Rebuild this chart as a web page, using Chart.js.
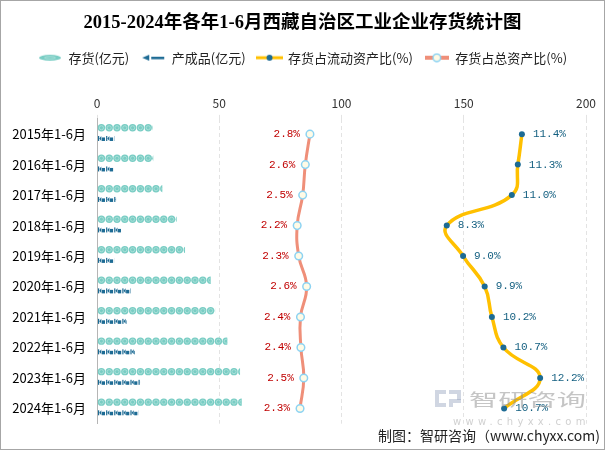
<!DOCTYPE html>
<html>
<head>
<meta charset="utf-8">
<script src="https://cdn.jsdelivr.net/npm/chart.js@4.4.1/dist/chart.umd.min.js"></script>
<style>
  html, body { margin: 0; padding: 0; background: #fff; }
  #wrap { width: 605px; height: 450px; }
</style>
</head>
<body>
<div id="wrap"><canvas id="chart" width="605" height="450"></canvas></div>
<script>
const categories = [
  "2015年1-6月", "2016年1-6月", "2017年1-6月", "2018年1-6月", "2019年1-6月",
  "2020年1-6月", "2021年1-6月", "2022年1-6月", "2023年1-6月", "2024年1-6月",
];
const inventory = [22.8, 23.0, 26.7, 32.6, 36.0, 46.5, 48.3, 53.3, 58.5, 59.2];
const finishedGoods = [7.1, 6.9, 7.8, 9.8, 7.0, 13.8, 12.1, 15.5, 17.6, 16.9];
const currentAssetRatio = [11.43, 11.26, 11.01, 8.3, 8.98, 9.88, 10.18, 10.66, 12.19, 10.69];
const totalAssetRatio = [2.79, 2.58, 2.46, 2.21, 2.28, 2.64, 2.36, 2.38, 2.51, 2.34];
const valueTicks = [0, 50, 100, 150, 200];
const seriesNames = ["存货(亿元)", "产成品(亿元)", "存货占流动资产比(%)", "存货占总资产比(%)"];

const CJK = '"Noto Sans CJK SC", "Noto Sans", sans-serif';
const TEAL = "#79cdc4";
const NAVY = "#1d6b94";
const YELLOW = "#ffc000";
const SALMON = "#ef8f79";

function drawCircleIcon(ctx, cx, cy, r) {
  ctx.beginPath();
  ctx.arc(cx, cy, r, 0, Math.PI * 2);
  ctx.fillStyle = TEAL;
  ctx.fill();
  ctx.beginPath();
  ctx.arc(cx, cy, r * 0.55, 0, Math.PI * 2);
  ctx.strokeStyle = "#a9e0d9";
  ctx.lineWidth = 1;
  ctx.stroke();
}

function drawGoodsIcon(ctx, x0, cy) {
  ctx.fillStyle = NAVY;
  ctx.fillRect(x0 + 0.5, cy - 2.5, 1.2, 5);
  ctx.beginPath();
  ctx.moveTo(x0 + 1.7, cy);
  ctx.lineTo(x0 + 3.8, cy - 2.5);
  ctx.lineTo(x0 + 3.8, cy + 2.5);
  ctx.closePath();
  ctx.fill();
  ctx.fillRect(x0 + 4.3, cy - 1, 3.2, 3.5);
}

function makeIcon(w, h, paint) {
  const c = document.createElement("canvas");
  c.width = w;
  c.height = h;
  paint(c.getContext("2d"), w, h);
  return c;
}

const legendIcons = [
  makeIcon(22, 8, (ctx, w, h) => {
    ctx.beginPath();
    ctx.ellipse(w / 2, h / 2, w / 2, h / 2 - 1, 0, 0, Math.PI * 2);
    ctx.fillStyle = TEAL;
    ctx.fill();
    ctx.strokeStyle = "#a9e0d9";
    ctx.beginPath();
    ctx.ellipse(w / 2, h / 2, w / 4, 1.2, 0, 0, Math.PI * 2);
    ctx.stroke();
  }),
  makeIcon(24, 8, (ctx, w, h) => {
    ctx.fillStyle = NAVY;
    ctx.beginPath();
    ctx.moveTo(1, h / 2);
    ctx.lineTo(8, 1);
    ctx.lineTo(8, h - 1);
    ctx.closePath();
    ctx.fill();
    ctx.fillRect(10, h / 2 - 1, 13, 2.5);
  }),
  makeIcon(27, 8, (ctx, w, h) => {
    ctx.fillStyle = YELLOW;
    ctx.fillRect(0, h / 2 - 1.5, w, 3);
    ctx.beginPath();
    ctx.arc(w / 2, h / 2, 3, 0, Math.PI * 2);
    ctx.fillStyle = NAVY;
    ctx.fill();
  }),
  makeIcon(24, 10, (ctx, w, h) => {
    ctx.fillStyle = SALMON;
    ctx.fillRect(0, h / 2 - 2, w, 4);
    ctx.beginPath();
    ctx.arc(w / 2, h / 2, 3.8, 0, Math.PI * 2);
    ctx.fillStyle = "#fffbe6";
    ctx.fill();
    ctx.strokeStyle = "#8dd3f2";
    ctx.lineWidth = 1.5;
    ctx.stroke();
  }),
];

// title and legend sit centred on the whole picture, not on the plot box
const centerHeader = {
  id: "centerHeader",
  afterLayout(chart) {
    [chart.titleBlock, chart.legend].forEach((box) => {
      if (box) {
        box.left += 9.5;
        box.right += 9.5;
      }
    });
  },
};

// pictorial bars: circles for inventory, little glyphs for finished goods
const pictorialBars = {
  id: "pictorialBars",
  afterDatasetDraw(chart, args) {
    if (args.index > 1) {
      return;
    }
    const ctx = chart.ctx;
    const meta = args.meta;
    meta.data.forEach((bar) => {
      const { x, y, base } = bar.getProps(["x", "y", "base"], true);
      const left = Math.min(x, base);
      const right = Math.max(x, base);
      const cy = y - 1;
      ctx.save();
      ctx.beginPath();
      ctx.rect(left, cy - 5, right - left, 10);
      ctx.clip();
      if (args.index === 0) {
        const d = 7.8;
        for (let cx = left; cx < right; cx += d) {
          drawCircleIcon(ctx, cx + d / 2, cy, d / 2 - 0.2);
        }
      } else {
        for (let gx = left; gx < right; gx += 8.1) {
          drawGoodsIcon(ctx, gx, cy);
        }
      }
      ctx.restore();
    });
  },
};

const pointLabels = {
  id: "pointLabels",
  afterDatasetsDraw(chart) {
    const ctx = chart.ctx;
    ctx.save();
    ctx.font = '11px "Liberation Mono", "DejaVu Sans Mono", monospace';
    ctx.textBaseline = "middle";
    [2, 3].forEach((i) => {
      const meta = chart.getDatasetMeta(i);
      const values = chart.data.datasets[i].data;
      meta.data.forEach((pt, j) => {
        const text = values[j].toFixed(1) + "%";
        if (i === 2) {
          ctx.fillStyle = "#135f80";
          ctx.textAlign = "left";
          ctx.fillText(text, pt.x + 11, pt.y);
        } else {
          ctx.fillStyle = "#c00000";
          ctx.textAlign = "right";
          ctx.fillText(text, pt.x - 10, pt.y);
        }
      });
    });
    ctx.restore();
  },
};

const frameAndCredits = {
  id: "frameAndCredits",
  beforeDraw(chart) {
    const ctx = chart.ctx;
    ctx.save();
    ctx.fillStyle = "#fff";
    ctx.fillRect(0, 0, chart.width, chart.height);
    ctx.restore();
  },
  afterDraw(chart) {
    const ctx = chart.ctx;
    ctx.save();
    // watermark
    ctx.fillStyle = "rgba(150, 165, 190, 0.45)";
    ctx.fillRect(435, 390, 11, 4);
    ctx.fillRect(435, 394, 4, 13);
    ctx.fillRect(439, 403, 7, 4);
    ctx.fillRect(449, 390, 12, 4);
    ctx.fillRect(457, 394, 4, 6);
    ctx.fillRect(449, 399, 12, 4);
    ctx.fillRect(449, 403, 4, 4);
    ctx.fillStyle = "rgba(140, 140, 140, 0.5)";
    ctx.font = "17px " + CJK;
    ctx.textBaseline = "middle";
    ctx.translate(469, 399.5);
    ctx.scale(1.72, 1);
    ctx.fillText("智研咨询", 0, 0);
    ctx.setTransform(1, 0, 0, 1, 0, 0);
    ctx.font = '10px "DejaVu Sans", sans-serif';
    ctx.letterSpacing = "4.3px";
    ctx.fillStyle = "rgba(150, 150, 150, 0.45)";
    ctx.fillText("www.chyxx.com", 453, 422);
    ctx.letterSpacing = "0px";
    // credit line
    ctx.fillStyle = "#222";
    ctx.font = "14px " + CJK;
    ctx.textAlign = "right";
    ctx.fillText("制图：智研咨询（www.chyxx.com)", 600, 436);
    // outer frame
    ctx.strokeStyle = "#a6a6a6";
    ctx.lineWidth = 1;
    ctx.strokeRect(0.5, 0.5, chart.width - 1, chart.height - 1);
    ctx.restore();
  },
};

new Chart(document.getElementById("chart"), {
  type: "bar",
  data: {
    labels: categories,
    datasets: [
      {
        label: seriesNames[0],
        data: inventory,
        xAxisID: "x",
        backgroundColor: "rgba(0,0,0,0)",
        categoryPercentage: 0.7,
        barPercentage: 1,
        order: 3,
      },
      {
        label: seriesNames[1],
        data: finishedGoods,
        xAxisID: "x",
        backgroundColor: "rgba(0,0,0,0)",
        categoryPercentage: 0.7,
        barPercentage: 1,
        order: 4,
      },
      {
        type: "line",
        label: seriesNames[2],
        data: currentAssetRatio,
        indexAxis: "y",
        xAxisID: "x3",
        borderColor: YELLOW,
        borderWidth: 3.5,
        tension: 0.45,
        pointRadius: 3,
        pointBackgroundColor: NAVY,
        pointBorderColor: NAVY,
        pointBorderWidth: 0,
        order: 1,
      },
      {
        type: "line",
        label: seriesNames[3],
        data: totalAssetRatio,
        indexAxis: "y",
        xAxisID: "x2",
        borderColor: SALMON,
        borderWidth: 3,
        tension: 0.45,
        pointRadius: 3.8,
        pointBackgroundColor: "#fffbe6",
        pointBorderColor: "#8dd3f2",
        pointBorderWidth: 1.5,
        order: 2,
      },
    ],
  },
  options: {
    responsive: false,
    animation: false,
    indexAxis: "y",
    layout: { padding: { left: 0, right: 19, top: 0, bottom: 26.3 } },
    scales: {
      y: {
        type: "category",
        position: "left",
        grid: { display: false, drawTicks: false },
        border: { display: true, color: "#b5b5b5", width: 1 },
        ticks: { color: "#000", font: { family: CJK, size: 13 }, padding: 11 },
        afterFit(scale) {
          scale.width = 97;
        },
      },
      x: {
        type: "linear",
        position: "top",
        min: valueTicks[0],
        max: valueTicks[valueTicks.length - 1],
        afterBuildTicks(scale) {
          scale.ticks = valueTicks.map((v) => ({ value: v }));
        },
        grid: { color: "#e3e3e3", tickLength: 4, tickColor: "#e3e3e3" },
        border: { display: false, dash: [4, 3] },
        ticks: { color: "#333", font: { family: CJK, size: 12 }, padding: 4 },
        afterFit(scale) {
          scale.height = 44.7;
        },
      },
      x2: { type: "linear", display: false, min: -6.89, max: 15.34 },
      x3: { type: "linear", display: false, min: -6.27, max: 14.1 },
    },
    plugins: {
      title: {
        display: true,
        text: "2015-2024年各年1-6月西藏自治区工业企业存货统计图",
        color: "#000",
        font: { family: '"Liberation Serif", ' + CJK, size: 18.5, weight: "bold" },
        padding: { top: 12, bottom: 5 },
      },
      legend: {
        display: true,
        labels: {
          usePointStyle: true,
          pointStyleWidth: 24,
          padding: 12,
          color: "#222",
          font: { family: CJK, size: 13 },
          generateLabels(chart) {
            const items = Chart.defaults.plugins.legend.labels.generateLabels(chart);
            return items
              .sort((a, b) => a.datasetIndex - b.datasetIndex)
              .map((item) => ({ ...item, pointStyle: legendIcons[item.datasetIndex] }));
          },
        },
      },
      tooltip: { enabled: false },
    },
  },
  plugins: [centerHeader, frameAndCredits, pictorialBars, pointLabels],
});
</script>
</body>
</html>
